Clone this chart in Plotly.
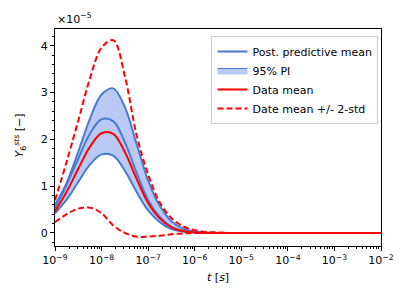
import plotly.graph_objects as go

# ---- data (values in units of 1e-5) ----
log_t = [-9.0, -8.75, -8.5, -8.25, -8.0, -7.75, -7.5, -7.25, -7.0, -6.75,
         -6.5, -6.25, -6.0, -5.75, -5.5, -5.25, -5.0, -4.0, -3.0, -2.0]

pi_upper = [0.60, 1.07, 1.74, 2.44, 2.96, 3.09, 2.69, 1.91, 1.12, 0.58,
            0.25, 0.09, 0.03, 0.01, 0.0, 0.0, 0.0, 0.0, 0.0, 0.0]
post_mean = [0.53, 1.03, 1.59, 2.12, 2.43, 2.39, 1.94, 1.29, 0.70, 0.34,
             0.13, 0.04, 0.01, 0.0, 0.0, 0.0, 0.0, 0.0, 0.0, 0.0]
pi_lower = [0.42, 0.71, 1.09, 1.46, 1.68, 1.65, 1.33, 0.88, 0.48, 0.23,
            0.08, 0.03, 0.01, 0.0, 0.0, 0.0, 0.0, 0.0, 0.0, 0.0]
data_mean = [0.46, 0.88, 1.37, 1.84, 2.13, 2.12, 1.73, 1.16, 0.64, 0.31,
             0.12, 0.04, 0.01, 0.0, 0.0, 0.0, 0.0, 0.0, 0.0, 0.0]
data_upper = [0.70, 1.52, 2.40, 3.30, 3.96, 4.12, 3.35, 2.10, 1.25, 0.65,
              0.32, 0.14, 0.06, 0.02, 0.01, 0.0, 0.0, 0.0, 0.0, 0.0]
data_lower = [0.23, 0.40, 0.52, 0.54, 0.42, 0.16, 0.00, -0.08, -0.08, -0.06,
              -0.03, -0.01, 0.0, 0.0, 0.0, 0.0, 0.0, 0.0, 0.0, 0.0]

x_tick_exps = [-9, -8, -7, -6, -5, -4, -3, -2]
y_ticks = [0, 1, 2, 3, 4]

t = [10 ** v for v in log_t]

BLUE = "#4a79d2"
FILL = "rgba(65,105,225,0.36)"
RED = "#ff0000"
FONT = "DejaVu Sans"

fig = go.Figure()

fig.add_trace(go.Scatter(x=t, y=pi_lower, mode="lines", line=dict(color=BLUE, width=2, shape="spline"),
                         showlegend=False, hoverinfo="skip"))
fig.add_trace(go.Scatter(x=t, y=pi_upper, mode="lines", fill="tonexty", fillcolor=FILL,
                         line=dict(color=BLUE, width=2, shape="spline"), showlegend=False))
fig.add_trace(go.Scatter(x=t, y=post_mean, mode="lines", line=dict(color=BLUE, width=2, shape="spline"),
                         name="Post. predictive mean"))
fig.add_trace(go.Scatter(x=[None], y=[None], mode="lines", fill="toself", fillcolor=FILL,
                         line=dict(color=BLUE, width=1), name="95% PI"))
fig.add_trace(go.Scatter(x=t, y=data_mean, mode="lines", line=dict(color=RED, width=2, shape="spline"),
                         name="Data mean"))
fig.add_trace(go.Scatter(x=t, y=data_upper, mode="lines",
                         line=dict(color=RED, width=2, dash="6px,3px", shape="spline"),
                         name="Date mean +/- 2-std", legendgroup="std"))
fig.add_trace(go.Scatter(x=t, y=data_lower, mode="lines",
                         line=dict(color=RED, width=2, dash="6px,3px", shape="spline"),
                         showlegend=False, legendgroup="std"))

minor_x = [m * 10 ** e for e in range(-9, -2) for m in range(2, 10)]

# the page body has an 8px margin, so the figure is made 8px smaller and shifted
fig.update_layout(
    width=399, height=297,
    margin=dict(l=47, r=26, t=21, b=59),
    paper_bgcolor="white", plot_bgcolor="white",
    font=dict(family=FONT, size=11, color="black"),
    showlegend=True,
    legend=dict(x=0.48, y=0.968, xanchor="left", yanchor="top",
                bgcolor="rgba(255,255,255,0.8)", bordercolor="#cccccc", borderwidth=1,
                font=dict(family=FONT, size=11), tracegroupgap=0, itemwidth=30),
    xaxis=dict(type="log", range=[-9, -2],
               tickvals=[10 ** e for e in x_tick_exps],
               ticktext=["10<sup>\u2212%d</sup>" % (-e) for e in x_tick_exps],
               ticks="outside", ticklen=4, tickwidth=1, tickcolor="black",
               showline=True, linecolor="black", linewidth=1, mirror=True,
               showgrid=False, zeroline=False,
               minor=dict(tickmode="array", tickvals=minor_x, ticks="outside", ticklen=2,
                          tickwidth=1, tickcolor="black", showgrid=False)),
    yaxis=dict(range=[-0.28, 4.36],
               tickvals=y_ticks, ticktext=[str(v) for v in y_ticks],
               ticks="outside", ticklen=4, tickwidth=1, tickcolor="black",
               showline=True, linecolor="black", linewidth=1, mirror=True,
               showgrid=False, zeroline=False,
               minor=dict(dtick=0.2, tick0=0, ticks="outside", ticklen=2,
                          tickwidth=1, tickcolor="black", showgrid=False)),
    annotations=[
        dict(text="\u00d710<sup>\u22125</sup>", x=0, y=1, xref="paper", yref="paper",
             xanchor="left", yanchor="bottom", showarrow=False, yshift=1,
             font=dict(family=FONT, size=11)),
        dict(text="<i>Y</i><sub>6</sub><sup><i>sts</i></sup> [\u2212]", x=-0.107, y=0.51,
             xref="paper", yref="paper", xanchor="center", yanchor="middle",
             textangle=-90, showarrow=False, font=dict(family=FONT, size=11)),
        dict(text="<i>t</i> [<i>s</i>]", x=0.5, y=-0.143, xref="paper", yref="paper",
             xanchor="center", yanchor="middle",
             showarrow=False, font=dict(family=FONT, size=11)),
    ],
)

fig.write_html("out.html")
